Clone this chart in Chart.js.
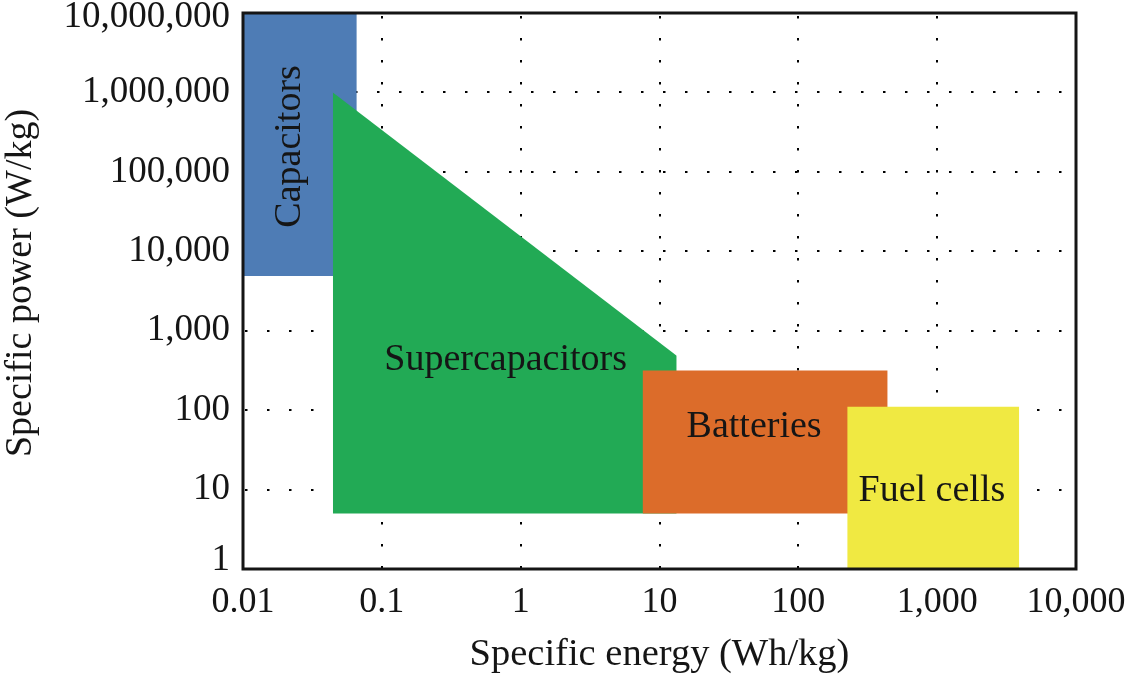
<!DOCTYPE html>
<html>
<head>
<meta charset="utf-8">
<script src="https://cdn.jsdelivr.net/npm/chart.js@4.4.1/dist/chart.umd.min.js"></script>
<style>
  html, body { margin: 0; padding: 0; background: #ffffff; }
  #wrap { width: 1127px; height: 681px; }
</style>
</head>
<body>
<div id="wrap"><canvas id="ragone" width="1127" height="681"></canvas></div>
<script>
// Axis ticks (log decades)
const xTickValues = [0.01, 0.1, 1, 10, 100, 1000, 10000];
const xTickLabels = ['0.01', '0.1', '1', '10', '100', '1,000', '10,000'];
const yTickValues = [1, 10, 100, 1000, 10000, 100000, 1000000, 10000000];
const yTickLabels = ['1', '10', '100', '1,000', '10,000', '100,000', '1,000,000', '10,000,000'];

// Technology regions: upper edge as (specific energy Wh/kg, specific power W/kg)
const regionNames = ['Capacitors', 'Supercapacitors', 'Batteries', 'Fuel cells'];
const capacitorsEnergy = [0.01, 0.066];
const capacitorsPower = [10000000, 10000000];
const supercapacitorsEnergy = [0.0444, 13.3];
const supercapacitorsPower = [1000000, 485];
const batteriesEnergy = [7.55, 440];
const batteriesPower = [316, 316];
const fuelCellsEnergy = [225, 3900];
const fuelCellsPower = [110, 110];
// Lower power bound of each region (W/kg)
const regionFloor = [4900, 5, 5, 1];
// Anchor of each region's name (energy, power)
const nameEnergy = [0.0218, 0.78, 48, 916];
const namePower = [209000, 425, 62, 9.7];

const SERIF = '"Liberation Serif", "DejaVu Serif", serif';
const INK = '#151515';
const regionColors = ['#4e7cb5', '#22aa55', '#dc6c2a', '#f0e942'];

const toPoints = (xs, ys) => xs.map((x, i) => ({ x: x, y: ys[i] }));

function regionDataset(idx, xs, ys) {
  return {
    label: regionNames[idx],
    data: toPoints(xs, ys),
    backgroundColor: regionColors[idx],
    borderColor: regionColors[idx],
    borderWidth: 0,
    pointRadius: 0,
    pointHoverRadius: 0,
    tension: 0,
    fill: { value: regionFloor[idx] },
    // later regions are painted over earlier ones
    order: 3 - idx
  };
}

// Solid box around the plotting area
const frameBox = {
  id: 'frameBox',
  afterDatasetsDraw(chart) {
    const { ctx, chartArea: a } = chart;
    ctx.save();
    ctx.strokeStyle = INK;
    ctx.lineWidth = 3;
    ctx.strokeRect(a.left, a.top, a.right - a.left, a.bottom - a.top);
    ctx.restore();
  }
};

// Region names placed at their data anchors
const regionLabels = {
  id: 'regionLabels',
  afterDatasetsDraw(chart) {
    const { ctx } = chart;
    const xs = chart.scales.x, ys = chart.scales.y;
    ctx.save();
    ctx.font = '38px ' + SERIF;
    ctx.fillStyle = INK;
    ctx.textAlign = 'center';
    ctx.textBaseline = 'middle';
    regionNames.forEach((name, i) => {
      const px = xs.getPixelForValue(nameEnergy[i]);
      const py = ys.getPixelForValue(namePower[i]);
      ctx.save();
      ctx.translate(px, py);
      if (i === 0) ctx.rotate(-Math.PI / 2);
      ctx.fillText(name, 0, 0);
      ctx.restore();
    });
    ctx.restore();
  }
};

// Vertical axis title, sitting a little above the middle of the axis
const powerAxisTitle = {
  id: 'powerAxisTitle',
  afterDraw(chart) {
    const { ctx, chartArea: a } = chart;
    ctx.save();
    ctx.font = '38px ' + SERIF;
    ctx.fillStyle = INK;
    ctx.textAlign = 'center';
    ctx.textBaseline = 'middle';
    ctx.translate(21, (a.top + a.bottom) / 2 - 8);
    ctx.rotate(-Math.PI / 2);
    ctx.fillText('Specific power (W/kg)', 0, 0);
    ctx.restore();
  }
};

const gridStyle = { color: '#000000', lineWidth: 2, drawTicks: false };
const lastY = yTickValues.length - 1;

new Chart(document.getElementById('ragone'), {
  type: 'line',
  data: {
    datasets: [
      regionDataset(0, capacitorsEnergy, capacitorsPower),
      regionDataset(1, supercapacitorsEnergy, supercapacitorsPower),
      regionDataset(2, batteriesEnergy, batteriesPower),
      regionDataset(3, fuelCellsEnergy, fuelCellsPower)
    ]
  },
  options: {
    responsive: false,
    animation: false,
    events: [],
    layout: { padding: { top: 13, right: 51, left: 0, bottom: 0 } },
    plugins: { legend: { display: false }, tooltip: { enabled: false } },
    scales: {
      x: {
        type: 'logarithmic',
        position: 'bottom',
        min: 0.01,
        max: 10000,
        afterBuildTicks: s => { s.ticks = xTickValues.map(v => ({ value: v })); },
        afterFit: s => { s.height = 112; s.paddingLeft = 0; s.paddingRight = 0; },
        ticks: {
          autoSkip: false,
          maxRotation: 0,
          padding: 12,
          color: INK,
          font: { family: SERIF, size: 36 },
          callback: (v, i) => xTickLabels[i]
        },
        grid: gridStyle,
        border: { display: false, dash: [2.5, 19.5], dashOffset: 19 },
        title: {
          display: true,
          text: 'Specific energy (Wh/kg)',
          color: INK,
          font: { family: SERIF, size: 38.5, lineHeight: 1 },
          padding: { top: 0, bottom: 7 }
        }
      },
      y: {
        type: 'logarithmic',
        position: 'left',
        min: 1,
        max: 10000000,
        afterBuildTicks: s => { s.ticks = yTickValues.map(v => ({ value: v })); },
        afterFit: s => { s.width = 243; s.paddingTop = 0; s.paddingBottom = 0; },
        ticks: {
          autoSkip: false,
          padding: 13,
          color: INK,
          // the end labels are kept inside the frame height
          font: c => ({
            family: SERIF,
            size: 37,
            lineHeight: c.index === 0 ? '18px' : (c.index === lastY ? '9px' : 1.2)
          }),
          callback: (v, i) => {
            if (i === 0) return [yTickLabels[i], ''];
            if (i === lastY) return ['', yTickLabels[i]];
            return yTickLabels[i];
          }
        },
        grid: gridStyle,
        border: { display: false, dash: [2.5, 19.5], dashOffset: 20 },
        title: { display: false }
      }
    }
  },
  plugins: [frameBox, regionLabels, powerAxisTitle]
});
</script>
</body>
</html>
